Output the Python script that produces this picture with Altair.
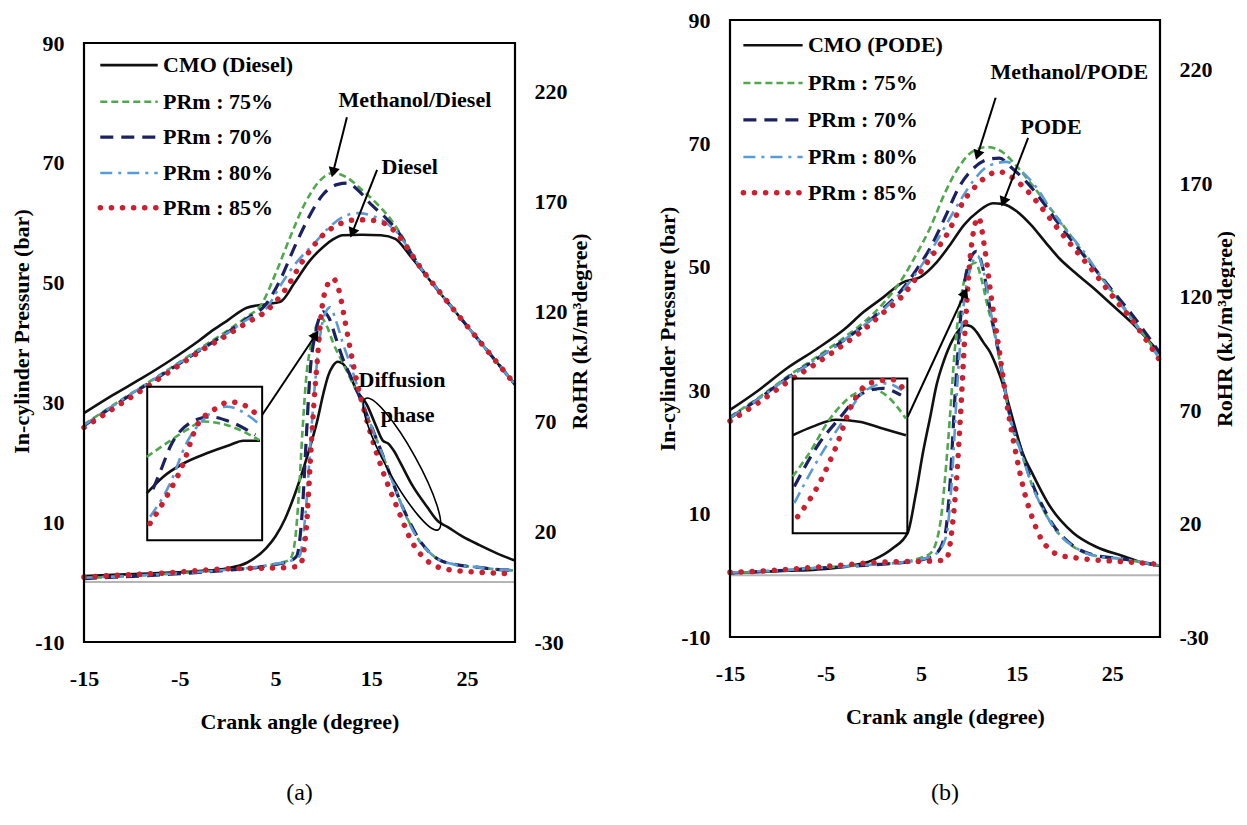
import math
import altair as alt
import pandas as pd

FONT = "Liberation Serif"

# ---------------- axes ----------------
X_DOMAIN = [-15, 30]
P_FRAME = [-10, 90]          # pressure axis range shown by the frame
R_BOTTOM = -30
A_P_TOP, A_R_TOP = 93.84, 252.5   # panel (a) plot area reaches a little higher than its frame
B_P_TOP, B_R_TOP = 90.0, 242.0
X_TICKS = [-15, -5, 5, 15, 25]
P_TICKS = [-10, 10, 30, 50, 70, 90]
R_TICKS = [-30, 20, 70, 120, 170, 220]

SERIES = ["CMO", "PRm75", "PRm70", "PRm80", "PRm85"]
LABELS_A = ["CMO (Diesel)", "PRm : 75%", "PRm : 70%", "PRm : 80%", "PRm : 85%"]
LABELS_B = ["CMO (PODE)", "PRm : 75%", "PRm : 70%", "PRm : 80%", "PRm : 85%"]

# ---------------- panel (a): pressure ----------------
A_P_CMO_X = [-15, -12, -9, -6, -3, -1.5, 0, 2, 4, 5.5, 7, 8.5, 10, 11, 12, 14, 16, 17.5, 19, 20, 22, 24, 26, 28, 30]
A_P_CMO_Y = [28.2, 31.2, 34.0, 37.0, 40.3, 42.1, 43.7, 45.8, 46.4, 46.8, 50.0, 53.5, 56.0, 57.2, 57.9, 58.0, 57.9, 57.3, 54.6, 52.6, 48.6, 44.7, 40.8, 36.9, 33.0]
A_P_75_X = [-15, -12, -9, -6, -3, 0, 2, 3.5, 5, 6.5, 8, 9.5, 11, 12.5, 14, 15.5, 17, 18.5, 20, 22, 24, 26, 28, 30]
A_P_75_Y = [26.3, 29.5, 32.6, 35.7, 38.9, 42.0, 44.3, 46.3, 51.5, 57.5, 63.0, 66.8, 68.3, 67.5, 65.5, 63.3, 60.6, 57.0, 52.8, 48.7, 44.7, 40.8, 36.9, 33.0]
A_P_70_X = [-15, -12, -9, -6, -3, 0, 2, 4, 5.5, 7, 8.5, 10, 11.5, 12.5, 13.5, 15, 16.5, 18, 19, 20, 22, 24, 26, 28, 30]
A_P_70_Y = [26.1, 29.3, 32.4, 35.5, 38.6, 41.7, 44.0, 46.4, 50.5, 56.0, 61.0, 64.8, 66.4, 66.6, 65.6, 63.0, 60.8, 58.0, 55.3, 52.8, 48.7, 44.7, 40.8, 36.9, 33.0]
A_P_80_X = [-15, -12, -9, -6, -3, 0, 2, 4, 5.5, 7, 9, 11, 12.5, 13.5, 15, 16.5, 18, 19, 20, 22, 24, 26, 28, 30]
A_P_80_Y = [26.2, 29.4, 32.5, 35.6, 38.7, 41.6, 43.8, 45.6, 49.5, 53.0, 56.5, 59.8, 61.3, 61.6, 61.2, 60.0, 57.8, 55.3, 52.8, 48.7, 44.7, 40.8, 36.9, 33.0]
A_P_85_X = [-15, -12, -9, -6, -3, 0, 2, 4, 6, 8, 10, 12, 13.5, 15, 16.5, 18, 19, 20, 22, 24, 26, 28, 30]
A_P_85_Y = [25.8, 28.9, 32.0, 35.2, 38.4, 41.3, 43.3, 45.2, 48.8, 54.0, 58.0, 60.0, 60.5, 60.4, 59.8, 57.5, 55.2, 52.8, 48.7, 44.7, 40.8, 36.9, 33.0]

# ---------------- panel (a): RoHR ----------------
A_R_CMO_X = [-15, -12, -9, -6, -3, 0, 2, 4, 5, 6, 7, 8, 8.6, 9.3, 10, 10.5, 11, 11.5, 12, 12.5, 13.5, 14.5, 15.5, 16.2, 16.8, 17.4, 18, 19.3, 20.8, 22, 22.9, 24.5, 26.3, 28, 30]
A_R_CMO_Y = [0.0, 0.5, 1.0, 1.5, 2.2, 3.5, 6.0, 12.5, 18.0, 26.0, 37.0, 50.0, 58.6, 69.5, 83.0, 91.0, 95.5, 97.3, 96.5, 93.6, 84.0, 78.0, 68.0, 61.5, 60.0, 56.5, 51.7, 41.0, 31.5, 24.7, 22.4, 18.0, 14.0, 10.5, 7.0]
A_R_75_X = [-15, -12, -9, -6, -3, 0, 3, 5, 6.5, 7.0, 7.4, 7.8, 8.2, 8.7, 9.2, 9.8, 10.4, 11.0, 12.0, 13.0, 14.0, 15.0, 16.0, 17.0, 18.0, 19.0, 20.0, 21.0, 22.0, 24.0, 26.0, 28.0, 30.0]
A_R_75_Y = [-1.0, -0.5, 0.2, 1.0, 1.8, 2.8, 4.0, 5.5, 7.5, 15.0, 35.0, 65.0, 90.0, 105.0, 113.0, 117.0, 113.0, 106.0, 97.0, 88.0, 79.0, 68.0, 57.0, 45.5, 34.0, 24.0, 16.0, 11.0, 7.5, 5.0, 4.0, 3.0, 2.5]
A_R_70_X = [-15, -12, -9, -6, -3, 0, 3, 5, 6.5, 7.2, 7.8, 8.2, 8.6, 9.2, 10.0, 10.6, 11.3, 12.0, 13.0, 14.0, 15.0, 16.0, 17.0, 18.0, 19.0, 20.0, 21.0, 22.0, 24.0, 26.0, 28.0, 30.0]
A_R_70_Y = [-1.2, -0.6, 0.0, 0.8, 1.6, 2.6, 3.8, 5.2, 6.8, 9.0, 30.0, 62.0, 92.0, 111.0, 120.0, 117.0, 108.0, 99.0, 89.0, 79.0, 68.0, 57.0, 45.5, 34.0, 24.5, 16.5, 11.0, 7.5, 5.0, 4.0, 3.0, 2.5]
A_R_80_X = [-15, -12, -9, -6, -3, 0, 3, 5, 6.5, 7.5, 8.2, 8.8, 9.4, 10.0, 10.7, 11.3, 12.0, 12.8, 14.0, 15.0, 16.0, 17.0, 18.0, 19.0, 20.0, 21.0, 22.0, 24.0, 26.0, 28.0, 30.0]
A_R_80_Y = [-0.8, -0.3, 0.3, 1.0, 1.8, 2.8, 4.0, 5.5, 6.8, 9.0, 32.0, 70.0, 100.0, 117.0, 122.0, 116.0, 106.0, 96.0, 80.0, 68.0, 57.0, 45.5, 34.0, 23.5, 16.0, 11.0, 7.5, 5.0, 4.0, 3.0, 2.5]
A_R_85_X = [-15, -12, -9, -6, -3, 0, 3, 6, 7.5, 8.2, 8.6, 9.0, 9.4, 9.8, 10.3, 11.0, 11.6, 12.2, 12.8, 13.5, 14.2, 14.9, 16.0, 17.7, 19.3, 20.8, 22.9, 25, 27, 30]
A_R_85_Y = [-0.5, 0.2, 0.8, 1.5, 2.5, 3.3, 3.5, 3.8, 4.5, 21.0, 50.0, 78.0, 100.0, 120.0, 131.0, 135.0, 130.0, 117.0, 103.0, 88.0, 76.0, 65.0, 50.0, 31.0, 15.0, 7.0, 3.0, 2.0, 1.5, 1.0]

# ---------------- panel (a): inset (drawn in pressure units) ----------------
A_I_CMO_X = [-8.46, -6.72, -4.63, -2.19, 0.24, 1.63, 3.37]
A_I_CMO_Y = [14.8, 17.6, 19.8, 21.5, 22.9, 23.6, 23.6]
A_I_75_X = [-8.46, -6.37, -4.28, -2.55, -0.8, 1.28, 3.3]
A_I_75_Y = [20.9, 23.2, 25.4, 26.8, 26.5, 25.4, 23.7]
A_I_70_X = [-7.8, -6.9, -6.0, -4.0, -1.9, 0.2, 2.9]
A_I_70_Y = [15.5, 19.0, 22.6, 26.5, 27.6, 26.8, 24.6]
A_I_80_X = [-8.1, -6.0, -4.3, -2.55, -0.1, 2.33, 3.4]
A_I_80_Y = [10.9, 16.5, 23.2, 27.1, 29.3, 27.6, 26.2]
A_I_85_X = [-8.1, -6.37, -4.63, -3.24, -1.5, 0.24, 2.33, 3.4]
A_I_85_Y = [9.8, 14.3, 19.8, 26.0, 28.7, 30.1, 29.0, 27.1]

# ---------------- panel (b): pressure ----------------
B_P_CMO_X = [-15, -12, -9, -6, -3, -1, 1, 3, 5, 6.5, 8, 9.5, 11, 12.5, 13.5, 15, 16.5, 18, 19.5, 21, 23, 25, 27, 30]
B_P_CMO_Y = [26.8, 30.0, 33.6, 36.6, 39.9, 42.7, 45.0, 47.4, 48.4, 50.5, 53.5, 56.8, 59.0, 60.3, 60.2, 59.0, 56.8, 54.0, 51.3, 49.2, 46.6, 43.8, 41.0, 36.0]
B_P_75_X = [-15, -12, -9, -6, -3, -1, 1, 3, 4.5, 6, 7.5, 9, 10.5, 12, 13.5, 15, 16.5, 18, 19.5, 21, 23, 25, 27, 30]
B_P_75_Y = [25.7, 28.8, 32.2, 35.3, 38.6, 41.0, 44.0, 48.0, 52.0, 56.5, 62.0, 66.3, 68.8, 69.4, 68.6, 66.3, 63.5, 60.5, 57.5, 54.3, 50.0, 46.0, 41.8, 35.3]
B_P_70_X = [-15, -12, -9, -6, -3, -1, 1, 3, 4.5, 6, 7.5, 9, 10.5, 12, 13.2, 14.5, 16, 17.5, 19, 21, 23, 25, 27, 30]
B_P_70_Y = [25.5, 28.6, 32.0, 35.0, 38.2, 40.5, 43.2, 46.3, 49.5, 53.2, 58.0, 63.0, 66.0, 67.4, 67.6, 66.0, 63.8, 61.0, 57.8, 53.8, 50.0, 46.2, 42.4, 36.0]
B_P_80_X = [-15, -12, -9, -6, -3, -1, 1, 3, 4.5, 6, 7.5, 9, 10.5, 12, 13.9, 15.5, 17, 18.5, 20, 22, 24, 26, 28, 30]
B_P_80_Y = [25.5, 28.6, 31.9, 35.0, 38.2, 40.5, 43.0, 46.0, 49.0, 52.5, 56.5, 60.5, 64.0, 66.3, 67.0, 65.5, 63.0, 59.5, 56.3, 52.5, 48.0, 43.7, 39.4, 35.0]
B_P_85_X = [-15, -12, -9, -6, -3, -1, 1, 3, 4.5, 6, 7.8, 9.4, 11, 12.2, 13.2, 14.5, 16, 17.5, 19, 21, 23, 25, 27, 30]
B_P_85_Y = [25.0, 28.0, 31.3, 34.3, 37.5, 39.8, 42.5, 45.2, 48.2, 51.5, 55.5, 60.5, 63.5, 65.0, 65.4, 64.5, 62.5, 59.8, 56.8, 53.0, 49.3, 45.3, 41.5, 34.8]

# ---------------- panel (b): RoHR ----------------
B_R_CMO_X = [-15, -12, -9, -6, -3, 0, 2, 3.6, 4.4, 5.2, 6.0, 6.6, 7.4, 8.3, 9.0, 9.6, 10.2, 10.8, 11.5, 12.2, 13.0, 13.6, 14.6, 15.6, 16.7, 18.5, 20.9, 23.3, 26.1, 28, 30]
B_R_CMO_Y = [-1.8, -1.3, -0.8, -0.3, 1.0, 4.0, 9.0, 16.0, 32.0, 51.4, 68.0, 80.8, 92.0, 101.0, 105.5, 107.5, 107.0, 104.5, 100.0, 95.7, 88.0, 80.8, 66.0, 51.4, 41.6, 27.5, 16.0, 9.8, 5.7, 3.0, 1.3]
B_R_75_X = [-15, -12, -9, -6, -3, 0, 3, 5, 6, 7, 7.8, 8.6, 9.4, 10.0, 10.7, 11.3, 12.0, 12.5, 13.3, 14.3, 15.5, 16.7, 17.8, 18.8, 20, 21, 23, 26, 28, 30]
B_R_75_Y = [-1.8, -1.2, -0.5, 0.5, 1.2, 2.0, 3.0, 5.0, 7.0, 20.0, 55.0, 100.0, 125.0, 133.0, 135.0, 128.0, 115.0, 107.0, 90.0, 66.0, 51.0, 36.0, 26.0, 18.7, 13.0, 9.6, 6.0, 4.4, 3.0, 1.5]
B_R_70_X = [-15, -12, -9, -6, -3, 0, 3, 5, 6.5, 7.5, 8.0, 8.6, 9.3, 10.0, 10.8, 11.5, 12.2, 13.0, 14.3, 15.5, 16.7, 17.8, 18.8, 20, 21, 23, 26, 28, 30]
B_R_70_Y = [-1.8, -1.2, -0.5, 0.3, 1.0, 1.8, 2.8, 4.0, 6.5, 15.0, 36.0, 80.0, 118.0, 135.0, 140.0, 132.0, 115.0, 98.0, 68.0, 52.0, 37.0, 27.0, 19.5, 13.5, 10.0, 6.2, 4.5, 3.0, 1.5]
B_R_80_X = [-15, -12, -9, -6, -3, 0, 3, 5, 6.5, 7.6, 8.2, 8.8, 9.5, 10.2, 10.9, 11.6, 12.3, 13.1, 14.3, 15.5, 16.7, 17.8, 18.8, 20, 21, 23, 26, 28, 30]
B_R_80_Y = [-1.6, -1.0, -0.4, 0.4, 1.1, 1.9, 2.9, 4.2, 6.5, 14.0, 38.0, 82.0, 118.0, 133.0, 138.0, 130.0, 113.0, 96.0, 67.0, 51.0, 36.0, 26.0, 19.0, 13.0, 9.8, 6.0, 4.4, 3.0, 1.5]
B_R_85_X = [-15, -12, -9, -6, -3, 0, 3, 6, 7.6, 8.3, 8.8, 9.1, 9.6, 10.2, 11.0, 11.7, 12.4, 13.2, 14.0, 14.9, 15.8, 16.7, 17.6, 18.5, 19.5, 21, 23, 25, 27, 30]
B_R_85_Y = [-1.5, -1.0, -0.2, 0.8, 1.8, 2.8, 3.2, 3.5, 4.0, 20.0, 45.0, 66.0, 105.0, 140.0, 155.0, 140.0, 118.0, 95.7, 72.0, 51.4, 34.0, 21.8, 13.0, 8.5, 6.0, 5.0, 4.0, 3.5, 3.0, 2.0]

# ---------------- panel (b): inset (drawn in pressure units) ----------------
B_I_CMO_X = [-8.44, -6.35, -3.91, -1.47, 0.97, 3.41]
B_I_CMO_Y = [22.7, 24.1, 25.2, 24.9, 23.8, 22.7]
B_I_75_X = [-8.44, -6.7, -4.61, -2.17, -0.43, 1.32, 3.41]
B_I_75_Y = [16.0, 19.8, 25.2, 29.2, 30.3, 29.2, 25.4]
B_I_70_X = [-8.27, -5.66, -3.57, -1.12, 0.97, 2.89]
B_I_70_Y = [14.4, 21.4, 25.4, 29.5, 30.3, 29.2]
B_I_80_X = [-8.27, -6.0, -3.57, -0.77, 1.32, 3.0]
B_I_80_Y = [11.7, 18.2, 24.1, 30.0, 31.1, 30.0]
B_I_85_X = [-7.92, -5.66, -3.91, -2.17, -0.43, 2.02, 3.0]
B_I_85_Y = [9.5, 14.9, 20.8, 27.9, 31.1, 31.7, 30.5]

# ---------------- annotations (data units) ----------------
A_BOX_X = [-8.4, 3.6]
A_BOX_Y = [7.0, 32.6]
B_BOX_X = [-8.44, 3.56]
B_BOX_Y = [6.8, 31.9]

A_TEXT = ["Methanol/Diesel", "Diesel", "Diffusion", "phase"]
A_TEXT_X = [19.55, 19.0, 18.2, 18.8]
A_TEXT_Y = [80.5, 69.3, 33.7, 27.9]
B_TEXT = ["Methanol/PODE", "PODE"]
B_TEXT_X = [20.5, 18.6]
B_TEXT_Y = [81.6, 72.7]

A_ARROW_X1 = [12.45, 15.6, 3.6]
A_ARROW_Y1 = [77.6, 68.8, 27.9]
A_ARROW_X2 = [11.0, 13.0, 9.2]
A_ARROW_Y2 = [68.4, 58.3, 41.3]
B_ARROW_X1 = [12.8, 16.2, 3.6]
B_ARROW_Y1 = [77.4, 70.9, 25.7]
B_ARROW_X2 = [10.9, 13.6, 9.6]
B_ARROW_Y2 = [68.1, 60.5, 45.8]

A_ELLIPSE_X = [18.2]
A_ELLIPSE_Y = [19.7]

A_LEG_X = [-13.3, -7.3, -6.75]
A_LEG_Y = [86.3, 80.2, 74.3, 68.3, 62.5]
B_LEG_X = [-13.6, -7.4, -6.85]
B_LEG_Y = [85.9, 79.8, 73.8, 67.8, 62.0]

# ---------------- styles ----------------
STYLE = {
    "CMO": dict(color="#111111", strokeWidth=2.6),
    "PRm75": dict(color="#4FA84B", strokeWidth=2.6, strokeDash=[7, 4]),
    "PRm70": dict(color="#1C2260", strokeWidth=3.2, strokeDash=[13, 8]),
    "PRm80": dict(color="#5B9BD5", strokeWidth=2.6, strokeDash=[12, 6, 3, 6]),
    "PRm85": dict(color="#CC1F2F", strokeWidth=5.5, strokeDash=[0.1, 11], strokeCap="round"),
}

ELLIPSE_PATH = "M -1 0 A 1 0.2 0 1 1 1 0 A 1 0.2 0 1 1 -1 0 Z"
HYPHEN_LABEL = "(datum.value < 0 ? '-' : '') + abs(datum.value)"

X_SCALE = alt.Scale(domain=X_DOMAIN, nice=False, zero=False)

COMMON_AX = dict(labelFont=FONT, labelFontSize=22, labelFontWeight="bold", labelColor="black",
                 titleFont=FONT, titleFontSize=22, titleFontWeight="bold", titleColor="black",
                 ticks=False, domain=False, grid=False, labelFlush=False, labelOverlap=False,
                 labelExpr=HYPHEN_LABEL)
AX_X = alt.Axis(values=X_TICKS, title="Crank angle (degree)", labelPadding=26, titlePadding=22, **COMMON_AX)
AX_LEFT = alt.Axis(values=P_TICKS, title="In-cylinder  Pressure (bar)", orient="left",
                   labelPadding=20, titlePadding=1, **COMMON_AX)
AX_RIGHT = alt.Axis(values=R_TICKS, title="RoHR (kJ/m³degree)", orient="right",
                    labelPadding=19, titlePadding=2, titleAngle=270, titleBaseline="top", **COMMON_AX)


def xenc(field="x"):
    return alt.X(f"{field}:Q", scale=X_SCALE, axis=AX_X)


def curve_df(xs, ys):
    return pd.DataFrame({"x": xs, "y": ys})


def panel(pres, rohr, inset, labels, leg_x, leg_y, box_x, box_y, texts, arrows, ellipse,
          w, h, p_top, r_top, caption, cap_offset):
    p_dom = [P_FRAME[0], p_top]
    r_dom = [R_BOTTOM, r_top]

    def yp(field="y", axis=None):
        return alt.Y(f"{field}:Q", scale=alt.Scale(domain=p_dom, nice=False, zero=False), axis=axis)

    def yr(field="y", axis=None):
        return alt.Y(f"{field}:Q", scale=alt.Scale(domain=r_dom, nice=False, zero=False), axis=axis)

    layers = []
    # zero reference line (gray)
    zero = pd.DataFrame({"x": [X_DOMAIN[0]], "x2": [X_DOMAIN[1]], "y": [0]})
    layers.append(alt.Chart(zero).mark_rule(color="#b5b5b5", strokeWidth=2).encode(
        x=xenc(), x2="x2:Q", y=yp(axis=AX_LEFT)))
    # pressure curves
    for s, (xs, ys) in zip(SERIES, pres):
        layers.append(alt.Chart(curve_df(xs, ys)).mark_line(interpolate="monotone", **STYLE[s]).encode(
            x=xenc(), y=yp()))
    # RoHR curves
    first = True
    for s, (xs, ys) in zip(SERIES, rohr):
        layers.append(alt.Chart(curve_df(xs, ys)).mark_line(interpolate="monotone", **STYLE[s]).encode(
            x=xenc(), y=yr(axis=AX_RIGHT if first else None)))
        first = False
    # plot frame
    frame = pd.DataFrame({"x": [X_DOMAIN[0]], "x2": [X_DOMAIN[1]], "y": [P_FRAME[0]], "y2": [P_FRAME[1]]})
    layers.append(alt.Chart(frame).mark_rect(fillOpacity=0, stroke="black", strokeWidth=2.2).encode(
        x=xenc(), x2="x2:Q", y=yp(), y2="y2:Q"))
    # inset box and its curves
    box = pd.DataFrame({"x": [box_x[0]], "x2": [box_x[1]], "y": [box_y[0]], "y2": [box_y[1]]})
    layers.append(alt.Chart(box).mark_rect(fillOpacity=0, stroke="black", strokeWidth=2).encode(
        x=xenc(), x2="x2:Q", y=yp(), y2="y2:Q"))
    for s, (xs, ys) in zip(SERIES, inset):
        layers.append(alt.Chart(curve_df(xs, ys)).mark_line(interpolate="monotone", **STYLE[s]).encode(
            x=xenc(), y=yp()))
    # legend (samples + labels)
    for s, ly in zip(SERIES, leg_y):
        d = pd.DataFrame({"x": [leg_x[0]], "x2": [leg_x[1]], "y": [ly]})
        layers.append(alt.Chart(d).mark_rule(**STYLE[s]).encode(x=xenc(), x2="x2:Q", y=yp()))
    leg = pd.DataFrame({"x": [leg_x[2]] * len(labels), "y": leg_y, "t": labels})
    layers.append(alt.Chart(leg).mark_text(font=FONT, fontSize=22, fontWeight="bold", color="black",
                                           align="left", baseline="middle").encode(
        x=xenc(), y=yp(), text="t:N"))
    # annotation texts
    tx, ttx, tty = texts
    tdf = pd.DataFrame({"x": ttx, "y": tty, "t": tx})
    layers.append(alt.Chart(tdf).mark_text(font=FONT, fontSize=22, fontWeight="bold", color="black",
                                           align="center", baseline="middle").encode(
        x=xenc(), y=yp(), text="t:N"))
    # arrows
    ax1, ay1, ax2, ay2 = arrows
    pxx = w / (X_DOMAIN[1] - X_DOMAIN[0])
    pxy = h / (p_dom[1] - p_dom[0])
    angs = []
    for a, b, c, d in zip(ax1, ay1, ax2, ay2):
        dx = (c - a) * pxx
        dy = -(d - b) * pxy
        angs.append(math.degrees(math.atan2(dx, -dy)) % 360)
    adf = pd.DataFrame({"x": ax1, "y": ay1, "x2": ax2, "y2": ay2, "ang": angs})
    layers.append(alt.Chart(adf).mark_rule(color="black", strokeWidth=2).encode(
        x=xenc(), y=yp(), x2="x2:Q", y2="y2:Q"))
    layers.append(alt.Chart(adf).mark_point(shape="triangle-up", filled=True, color="black", size=130,
                                            opacity=1).encode(
        x=xenc("x2"), y=yp("y2"), angle=alt.Angle("ang:Q", scale=None)))
    if ellipse is not None:
        edf = pd.DataFrame({"x": ellipse[0], "y": ellipse[1]})
        layers.append(alt.Chart(edf).mark_point(shape=ELLIPSE_PATH, filled=False, stroke="black",
                                                strokeWidth=1.6, size=150 * 150, angle=61,
                                                opacity=1).encode(x=xenc(), y=yp()))
    # caption
    cdf = pd.DataFrame({"t": [caption]})
    layers.append(alt.Chart(cdf).mark_text(font=FONT, fontSize=24, color="black", align="center",
                                           baseline="middle").encode(
        x=alt.value(w / 2), y=alt.value(h + cap_offset), text="t:N"))

    return alt.layer(*layers).resolve_scale(y="independent").properties(width=w, height=h)


A_PRES = [(A_P_CMO_X, A_P_CMO_Y), (A_P_75_X, A_P_75_Y), (A_P_70_X, A_P_70_Y), (A_P_80_X, A_P_80_Y), (A_P_85_X, A_P_85_Y)]
A_ROHR = [(A_R_CMO_X, A_R_CMO_Y), (A_R_75_X, A_R_75_Y), (A_R_70_X, A_R_70_Y), (A_R_80_X, A_R_80_Y), (A_R_85_X, A_R_85_Y)]
A_INS = [(A_I_CMO_X, A_I_CMO_Y), (A_I_75_X, A_I_75_Y), (A_I_70_X, A_I_70_Y), (A_I_80_X, A_I_80_Y), (A_I_85_X, A_I_85_Y)]
B_PRES = [(B_P_CMO_X, B_P_CMO_Y), (B_P_75_X, B_P_75_Y), (B_P_70_X, B_P_70_Y), (B_P_80_X, B_P_80_Y), (B_P_85_X, B_P_85_Y)]
B_ROHR = [(B_R_CMO_X, B_R_CMO_Y), (B_R_75_X, B_R_75_Y), (B_R_70_X, B_R_70_Y), (B_R_80_X, B_R_80_Y), (B_R_85_X, B_R_85_Y)]
B_INS = [(B_I_CMO_X, B_I_CMO_Y), (B_I_75_X, B_I_75_Y), (B_I_70_X, B_I_70_Y), (B_I_80_X, B_I_80_Y), (B_I_85_X, B_I_85_Y)]

pa = panel(A_PRES, A_ROHR, A_INS, LABELS_A, A_LEG_X, A_LEG_Y, A_BOX_X, A_BOX_Y,
           (A_TEXT, A_TEXT_X, A_TEXT_Y), (A_ARROW_X1, A_ARROW_Y1, A_ARROW_X2, A_ARROW_Y2),
           (A_ELLIPSE_X, A_ELLIPSE_Y), 431, 622, A_P_TOP, A_R_TOP, "(a)", 151)
pb = panel(B_PRES, B_ROHR, B_INS, LABELS_B, B_LEG_X, B_LEG_Y, B_BOX_X, B_BOX_Y,
           (B_TEXT, B_TEXT_X, B_TEXT_Y), (B_ARROW_X1, B_ARROW_Y1, B_ARROW_X2, B_ARROW_Y2),
           None, 430, 617, B_P_TOP, B_R_TOP, "(b)", 156)

chart = alt.concat(pa, pb, columns=2, spacing=66).configure_view(strokeWidth=0).properties(
    padding={"left": 10, "top": 9, "right": 0, "bottom": 0}, background="white")

chart.save("out.html", embed_options={"renderer": "svg", "actions": False})
